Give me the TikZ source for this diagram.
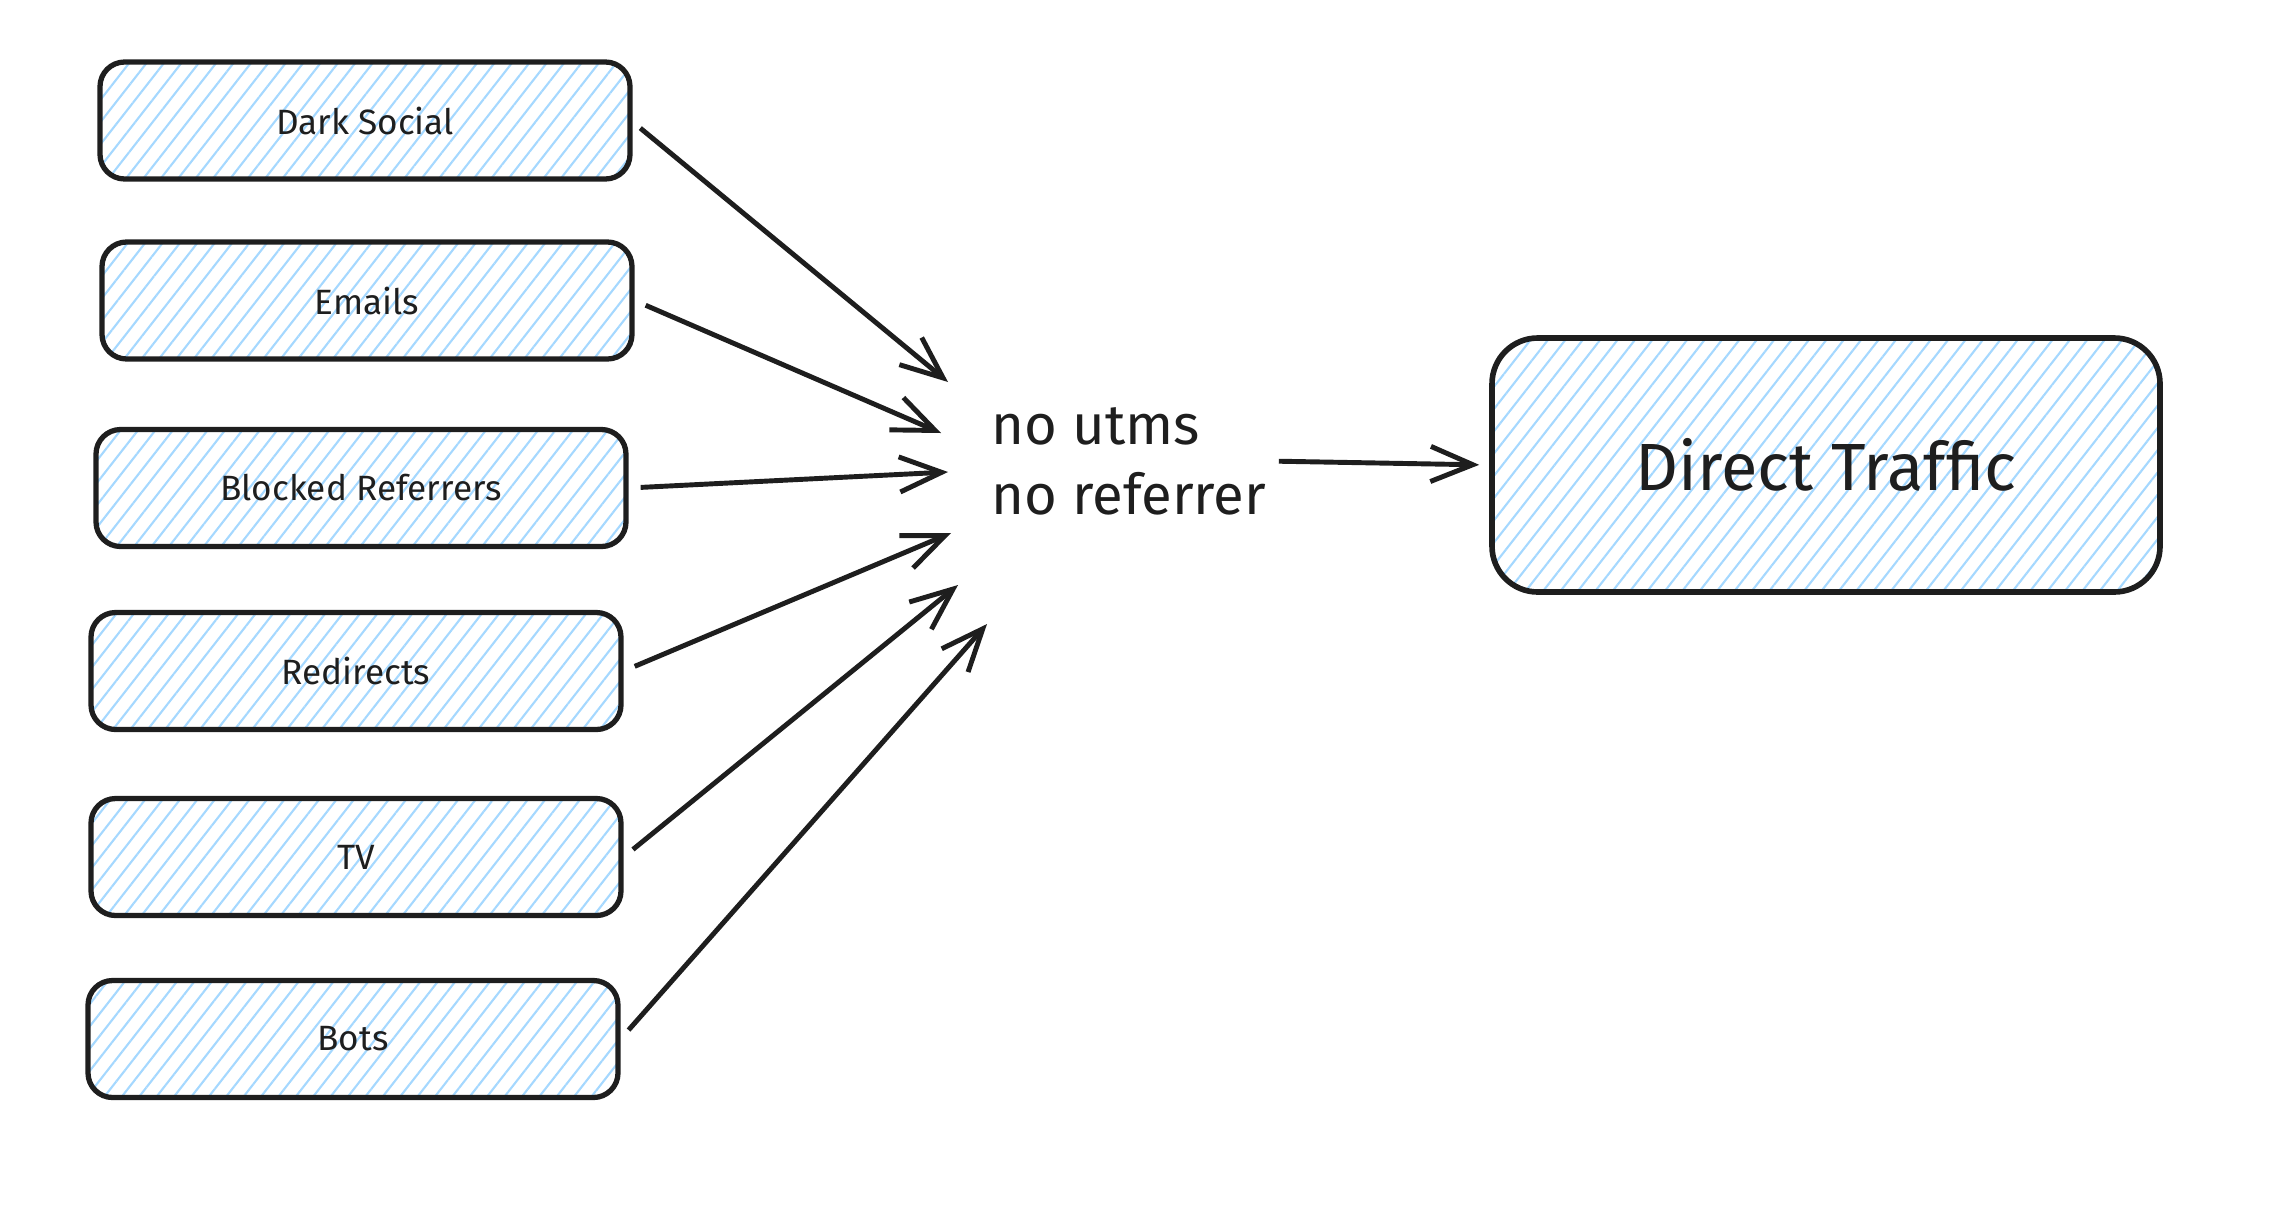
\documentclass[tikz,border=0pt]{standalone}
\usepackage{fontspec}
\setmainfont{Fira Sans}
\usetikzlibrary{positioning, arrows.meta, patterns.meta}
\definecolor{cInk}  {RGB}{30,30,30}
\definecolor{cHatch}{RGB}{165,216,255}
\tikzset{
  %% hatched source box
  SRC/.style={rectangle, rounded corners=7pt, draw=cInk, line width=1.5pt,
              pattern={Lines[angle=52, distance=3.9pt, line width=0.6pt]},
              pattern color=cHatch,
              minimum width=5.3cm, minimum height=1.17cm,
              font=\fontsize{10}{12}\selectfont, text=cInk, align=center},
  %% big target box
  TGT/.style={rectangle, rounded corners=13pt, draw=cInk, line width=1.6pt,
              pattern={Lines[angle=52, distance=3.9pt, line width=0.6pt]},
              pattern color=cHatch,
              minimum width=6.68cm, minimum height=2.54cm,
              font=\fontsize{19}{22}\selectfont, text=cInk, align=center},
  %% free text
  LBL/.style={font=\fontsize{16}{20}\selectfont, text=cInk, align=left,
              inner sep=0pt},
  %% arrows
  A/.style={-{Straight Barb[length=12pt,width=10pt]}, line width=1.4pt,
            color=cInk, shorten <=0.12cm},
}

\begin{document}
\begin{tikzpicture}

\useasboundingbox (0,0) rectangle (22.76,12.08);

%% ════════════════════════════════════════════════
%%  NODES
%% ════════════════════════════════════════════════

%% ── Sources  (left column) ──
\node[SRC] (dark)  at (3.65, 10.875) {Dark Social};
\node[SRC] (mail)  at (3.67,  9.075) {Emails};
\node[SRC] (block) at (3.61,  7.20)  {Blocked Referrers};
\node[SRC] (redir) at (3.56,  5.37)  {Redirects};
\node[SRC] (tv)    at (3.56,  3.51)  {TV};
\node[SRC] (bots)  at (3.53,  1.69)  {Bots};

%% ── Condition text ──
\node[LBL, anchor=west] (cond) at (9.91, 7.47) {no utms\\no referrer};

%% ── Target ──
\node[TGT] (direct) at (18.26, 7.43) {Direct Traffic};

%% ── Arrow tips (loose ends near the text) ──
\coordinate (in1) at (9.48, 8.26);
\coordinate (in2) at (9.41, 7.75);
\coordinate (in3) at (9.48, 7.36);
\coordinate (in4) at (9.51, 6.75);
\coordinate (in5) at (9.58, 6.23);
\coordinate (in6) at (9.87, 5.84);

%% ════════════════════════════════════════════════
%%  ARROWS
%% ════════════════════════════════════════════════

\draw[A] (dark.east)  -- (in1);
\draw[A] (mail.east)  -- (in2);
\draw[A] (block.east) -- (in3);
\draw[A] (redir.east) -- (in4);
\draw[A] (tv.east)    -- (in5);
\draw[A] (bots.east)  -- (in6);

%% text → Direct Traffic
\draw[A, shorten >=0.1cm] (cond.east) -- (direct.west);

\end{tikzpicture}
\end{document}
